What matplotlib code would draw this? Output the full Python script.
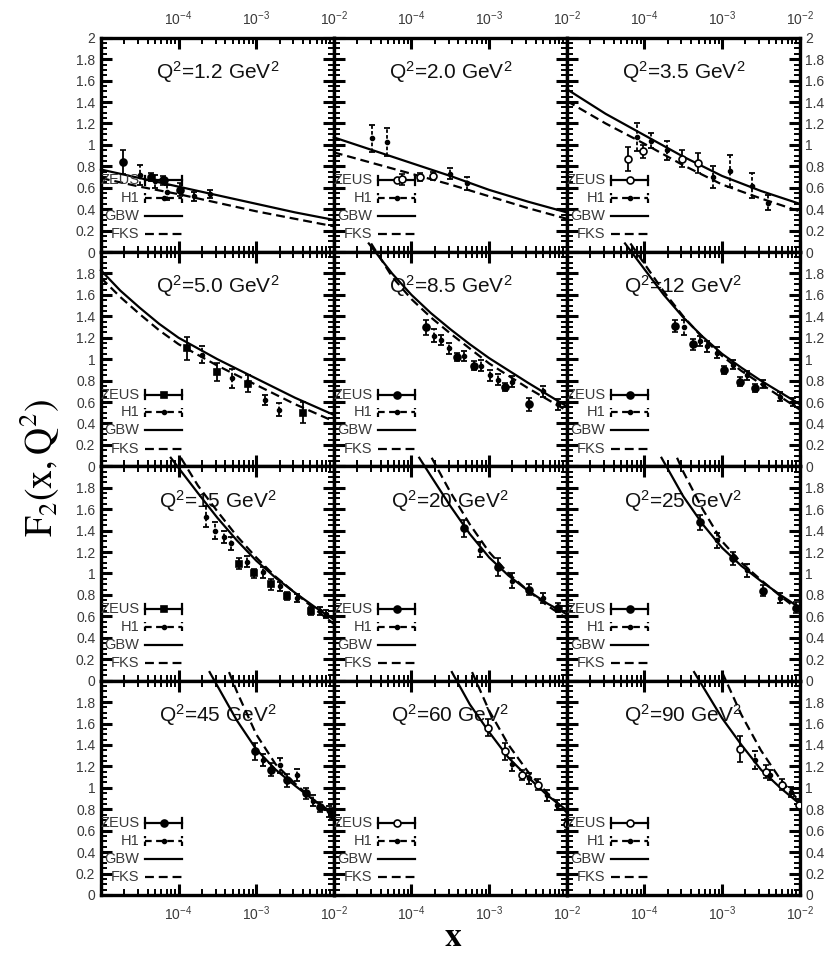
import numpy as np
import matplotlib
matplotlib.use("Agg")
import matplotlib.pyplot as plt
from matplotlib.ticker import MultipleLocator, LogLocator, FuncFormatter, NullFormatter

plt.rcParams['font.family'] = ['Liberation Sans Narrow', 'Liberation Sans', 'DejaVu Sans']
plt.rcParams['mathtext.fontset'] = 'custom'
plt.rcParams['mathtext.rm'] = 'Liberation Sans'
plt.rcParams['mathtext.it'] = 'Liberation Sans:italic'
plt.rcParams['mathtext.bf'] = 'Liberation Sans:bold'

# Q^2 bins (GeV^2)
q2_bins = ["1.2", "2.0", "3.5", "5.0", "8.5", "12", "15", "20", "25", "45", "60", "90"]

# model curves: log10(x) knots and F2 values
gbw_lx = [
    [-5, -4.5, -4, -3.5, -3, -2.5, -2],
    [-5, -4.5, -4, -3.5, -3, -2.5, -2],
    [-5, -4.5, -4, -3.5, -3, -2.5, -2],
    [-5, -4.75, -4.5, -4.25, -4, -3.5, -3, -2.5, -2],
    [-4.55, -4.25, -4.0, -3.75, -3.5, -3.25, -3.0, -2.5, -2.0],
    [-4.25, -4.0, -3.75, -3.5, -3.25, -3.0, -2.75, -2.5, -2.25, -2.0],
    [-4.10, -3.75, -3.5, -3.25, -3.0, -2.75, -2.5, -2.25, -2.0],
    [-3.90, -3.75, -3.5, -3.25, -3.0, -2.75, -2.5, -2.25, -2.0],
    [-3.78, -3.5, -3.25, -3.0, -2.75, -2.5, -2.25, -2.0],
    [-3.60, -3.25, -3.0, -2.75, -2.5, -2.25, -2.0],
    [-3.48, -3.25, -3.0, -2.75, -2.5, -2.25, -2.0],
    [-3.36, -3.0, -2.75, -2.5, -2.25, -2.0],
]
gbw_f2 = [
    [0.77, 0.69, 0.61, 0.53, 0.45, 0.37, 0.30],
    [1.07, 0.95, 0.83, 0.71, 0.58, 0.47, 0.37],
    [1.52, 1.29, 1.09, 0.89, 0.71, 0.57, 0.45],
    [1.83, 1.64, 1.48, 1.33, 1.20, 1.00, 0.82, 0.64, 0.48],
    [2.08, 1.80, 1.60, 1.43, 1.28, 1.14, 1.01, 0.78, 0.56],
    [2.08, 1.84, 1.60, 1.39, 1.21, 1.05, 0.92, 0.80, 0.69, 0.58],
    [2.08, 1.75, 1.52, 1.31, 1.12, 0.96, 0.82, 0.69, 0.57],
    [2.08, 1.91, 1.63, 1.37, 1.15, 0.98, 0.84, 0.72, 0.62],
    [2.08, 1.72, 1.46, 1.24, 1.07, 0.93, 0.80, 0.68],
    [2.08, 1.63, 1.36, 1.17, 1.02, 0.88, 0.76],
    [2.08, 1.78, 1.52, 1.28, 1.10, 0.93, 0.79],
    [2.08, 1.65, 1.40, 1.17, 1.00, 0.85],
]
fks_lx = [
    [-5, -4.5, -4, -3.5, -3, -2.5, -2],
    [-5, -4.5, -4, -3.5, -3, -2.5, -2],
    [-5, -4.5, -4, -3.5, -3, -2.5, -2],
    [-5, -4.75, -4.5, -4.25, -4, -3.5, -3, -2.5, -2],
    [-4.52, -4.25, -4.0, -3.75, -3.5, -3.25, -3.0, -2.5, -2.0],
    [-4.18, -4.0, -3.75, -3.5, -3.25, -3.0, -2.75, -2.5, -2.25, -2.0],
    [-3.97, -3.75, -3.5, -3.25, -3.0, -2.75, -2.5, -2.25, -2.0],
    [-3.74, -3.5, -3.25, -3.0, -2.75, -2.5, -2.25, -2.0],
    [-3.58, -3.5, -3.25, -3.0, -2.75, -2.5, -2.25, -2.0],
    [-3.35, -3.25, -3.0, -2.75, -2.5, -2.25, -2.0],
    [-3.22, -3.0, -2.75, -2.5, -2.25, -2.0],
    [-3.00, -2.75, -2.5, -2.25, -2.0],
]
fks_f2 = [
    [0.69, 0.61, 0.54, 0.46, 0.38, 0.31, 0.24],
    [0.93, 0.83, 0.73, 0.63, 0.52, 0.41, 0.31],
    [1.41, 1.20, 1.01, 0.81, 0.63, 0.50, 0.38],
    [1.76, 1.58, 1.42, 1.27, 1.14, 0.94, 0.76, 0.58, 0.42],
    [2.08, 1.77, 1.56, 1.39, 1.24, 1.10, 0.96, 0.73, 0.52],
    [2.08, 1.89, 1.63, 1.40, 1.20, 1.03, 0.89, 0.77, 0.65, 0.53],
    [2.08, 1.82, 1.58, 1.35, 1.15, 0.97, 0.82, 0.67, 0.53],
    [2.08, 1.76, 1.46, 1.20, 1.00, 0.84, 0.70, 0.58],
    [2.08, 1.95, 1.60, 1.30, 1.10, 0.94, 0.79, 0.65],
    [2.08, 1.90, 1.50, 1.22, 1.04, 0.88, 0.74],
    [2.08, 1.72, 1.40, 1.15, 0.95, 0.77],
    [2.08, 1.68, 1.35, 1.08, 0.87],
]

# ZEUS data
zeus_lx = [
    [-4.72, -4.36, -4.20, -3.98],
    [-4.12, -3.89, -3.72],
    [-4.21, -4.02, -3.52, -3.31],
    [-3.89, -3.51, -3.10, -2.40],
    [-3.81, -3.41, -3.20, -2.79, -2.49],
    [-3.60, -3.38, -2.98, -2.77, -2.58],
    [-3.22, -3.03, -2.81, -2.60, -2.30],
    [-3.32, -2.89, -2.49, -2.11],
    [-3.28, -2.86, -2.47, -2.05],
    [-3.02, -2.81, -2.60, -2.36, -2.18, -2.02],
    [-3.01, -2.80, -2.58, -2.37, -2.00],
    [-2.77, -2.44, -2.23, -2.01],
]
zeus_f2 = [
    [0.84, 0.70, 0.67, 0.58],
    [0.68, 0.70, 0.71],
    [0.87, 0.94, 0.87, 0.83],
    [1.10, 0.88, 0.77, 0.50],
    [1.30, 1.02, 0.94, 0.74, 0.58],
    [1.31, 1.14, 0.90, 0.79, 0.73],
    [1.09, 1.00, 0.90, 0.79, 0.65],
    [1.42, 1.06, 0.85, 0.68],
    [1.48, 1.14, 0.84, 0.68],
    [1.34, 1.17, 1.07, 0.95, 0.82, 0.76],
    [1.56, 1.34, 1.12, 1.03, 0.66],
    [1.36, 1.15, 1.03, 0.84],
]
zeus_err = [
    [0.11, 0.04, 0.04, 0.06],
    [0.05, 0.04, 0.04],
    [0.11, 0.06, 0.08, 0.09],
    [0.11, 0.08, 0.08, 0.10],
    [0.07, 0.04, 0.04, 0.04, 0.06],
    [0.06, 0.05, 0.04, 0.04, 0.04],
    [0.05, 0.04, 0.05, 0.04, 0.04],
    [0.08, 0.08, 0.05, 0.04],
    [0.07, 0.06, 0.05, 0.05],
    [0.08, 0.06, 0.06, 0.05, 0.05, 0.05],
    [0.08, 0.08, 0.05, 0.05, 0.05],
    [0.12, 0.06, 0.05, 0.05],
]
zeus_marker = ['o', 'o', 'o', 's', 'o', 'o', 's', 'o', 'o', 'o', 'o', 'o']
zeus_open = [False, True, True, False, False, False, False, False, False, False, True, True]

# H1 data
h1_lx = [
    [-4.50, -4.30, -4.15, -3.80, -3.60],
    [-4.51, -4.32, -3.50, -3.29],
    [-4.10, -3.91, -3.71, -3.12, -2.90, -2.62, -2.41],
    [-3.70, -3.31, -2.89, -2.70],
    [-3.71, -3.62, -3.52, -3.32, -3.11, -2.99, -2.88, -2.70, -2.31, -2.11],
    [-3.49, -3.28, -3.19, -3.07, -2.86, -2.68, -2.47, -2.26, -2.08],
    [-3.65, -3.53, -3.41, -3.32, -3.12, -2.91, -2.69, -2.48, -2.18, -2.10],
    [-3.12, -2.70, -2.31],
    [-3.07, -2.68, -2.26],
    [-2.91, -2.69, -2.48, -2.27, -2.06],
    [-2.70, -2.49, -2.25, -2.13],
    [-2.58, -2.38, -2.11],
]
h1_f2 = [
    [0.72, 0.66, 0.56, 0.52, 0.54],
    [1.06, 1.03, 0.73, 0.64],
    [1.07, 1.04, 0.95, 0.70, 0.76, 0.62, 0.46],
    [1.04, 0.82, 0.62, 0.53],
    [1.22, 1.18, 1.10, 1.03, 0.94, 0.85, 0.81, 0.79, 0.70, 0.58],
    [1.30, 1.17, 1.12, 1.06, 0.95, 0.85, 0.77, 0.65, 0.60],
    [1.53, 1.40, 1.34, 1.28, 1.11, 1.01, 0.88, 0.77, 0.65, 0.62],
    [1.22, 0.93, 0.77],
    [1.31, 1.03, 0.77],
    [1.26, 1.21, 1.12, 0.88, 0.78],
    [1.22, 1.09, 0.93, 0.84],
    [1.26, 1.12, 0.96],
]
h1_err = [
    [0.09, 0.06, 0.07, 0.04, 0.04],
    [0.13, 0.13, 0.05, 0.06],
    [0.13, 0.07, 0.09, 0.10, 0.15, 0.12, 0.07],
    [0.08, 0.09, 0.05, 0.06],
    [0.06, 0.05, 0.05, 0.05, 0.05, 0.05, 0.05, 0.05, 0.05, 0.05],
    [0.07, 0.05, 0.05, 0.05, 0.04, 0.04, 0.04, 0.04, 0.04],
    [0.10, 0.08, 0.06, 0.06, 0.05, 0.05, 0.04, 0.04, 0.04, 0.04],
    [0.07, 0.07, 0.05],
    [0.07, 0.06, 0.05],
    [0.06, 0.07, 0.06, 0.05, 0.05],
    [0.06, 0.05, 0.05, 0.05],
    [0.08, 0.05, 0.05],
]

txt_col = '#3a3a3a'
dash = (0, (4, 2.2))

fig = plt.figure(figsize=(8.27, 9.67), dpi=100)
axes = fig.subplots(4, 3, gridspec_kw=dict(left=0.122, right=0.967, top=0.961,
                                           bottom=0.0745, wspace=0, hspace=0))


def xfmt(v, pos):
    if v < 5e-5:
        return ''
    return r'$10^{%d}$' % round(np.log10(v))


for i, ax in enumerate(axes.flat):
    r, c = divmod(i, 3)

    ax.plot(10 ** np.array(gbw_lx[i]), gbw_f2[i], 'k-', lw=1.6, clip_on=False, zorder=3)
    ax.plot(10 ** np.array(fks_lx[i]), fks_f2[i], color='k', ls=dash, lw=1.6,
            clip_on=False, zorder=3)

    mfc = 'white' if zeus_open[i] else 'black'
    ax.errorbar(10 ** np.array(zeus_lx[i]), zeus_f2[i], yerr=zeus_err[i],
                fmt=zeus_marker[i], ms=5, mfc=mfc, mec='black', mew=1.2,
                ecolor='black', elinewidth=1.3, capsize=2, capthick=1.3, zorder=4)
    eb = ax.errorbar(10 ** np.array(h1_lx[i]), h1_f2[i], yerr=h1_err[i],
                     fmt='o', ms=3, color='black', elinewidth=1.3, capsize=2,
                     capthick=1.3, zorder=4)
    eb[2][0].set_linestyle((0, (2, 1.2)))

    # legend block, label left of the handle
    tr = ax.transAxes
    x0, x1, xm = 0.19, 0.35, 0.27
    ys = [0.335, 0.252, 0.168, 0.083]
    for lab, yy in zip(["ZEUS", "H1", "GBW", "FKS"], ys):
        ax.text(0.165, yy, lab, transform=tr, ha='right', va='center',
                fontsize=10.5, color=txt_col)
    y0 = ys[0]
    ax.plot([x0, x1], [y0, y0], 'k-', lw=1.6, transform=tr)
    for xc in (x0, x1):
        ax.plot([xc, xc], [y0 - 0.022, y0 + 0.022], 'k-', lw=1.6, transform=tr)
    ax.plot(xm, y0, zeus_marker[i], ms=5, mfc=mfc, mec='black', mew=1.2, transform=tr)
    y1 = ys[1]
    ax.plot([x0, x1], [y1, y1], color='k', ls=(0, (3, 2)), lw=1.6, transform=tr)
    for xc in (x0, x1):
        ax.plot([xc, xc], [y1 - 0.022, y1 + 0.022], color='k', ls=(0, (2, 1.5)),
                lw=1.6, transform=tr)
    ax.plot(xm, y1, 'o', ms=3, color='black', transform=tr)
    ax.plot([x0, x1], [ys[2], ys[2]], 'k-', lw=1.6, transform=tr)
    ax.plot([x0, x1], [ys[3], ys[3]], color='k', ls=dash, lw=1.6, transform=tr)

    ax.text(0.5, 0.84, r'Q$^2$=%s GeV$^2$' % q2_bins[i], transform=tr,
            ha='center', va='center', fontsize=15, color='#111111', zorder=1)

    ax.set_xscale('log')
    ax.set_xlim(1e-5, 1e-2)
    ax.set_ylim(0, 2)
    ax.xaxis.set_major_locator(LogLocator(base=10, numticks=10))
    ax.xaxis.set_minor_locator(LogLocator(base=10, subs=np.arange(2, 10), numticks=10))
    ax.xaxis.set_major_formatter(FuncFormatter(xfmt))
    ax.xaxis.set_minor_formatter(NullFormatter())
    ax.yaxis.set_major_locator(MultipleLocator(0.2))
    ax.yaxis.set_minor_locator(MultipleLocator(0.05))
    top_row = (r == 0)
    ax.yaxis.set_major_formatter(FuncFormatter(
        lambda v, p, t=top_row: ('%g' % round(v, 1)) if (t or v < 1.95) else ''))

    ax.tick_params(which='both', direction='in', top=True, right=True,
                   labelcolor=txt_col, labelsize=10)
    ax.tick_params(axis='y', pad=4)
    ax.tick_params(axis='x', pad=7)
    ax.tick_params(which='major', length=8, width=2.2)
    ax.tick_params(which='minor', length=4, width=1.4)
    ax.tick_params(labelleft=(c == 0), labelright=(c == 2),
                   labeltop=(r == 0), labelbottom=(r == 3))
    for sp in ax.spines.values():
        sp.set_linewidth(2.4)

fig.text(0.048, 0.516, r'$\mathrm{F_2(x,Q^2)}$', rotation=90, ha='center', va='center',
         fontsize=27, math_fontfamily='stix')
fig.text(0.548, 0.031, r'$\mathbf{x}$', ha='center', va='center',
         fontsize=24, math_fontfamily='stix')

fig.savefig("out.png", dpi=100)
